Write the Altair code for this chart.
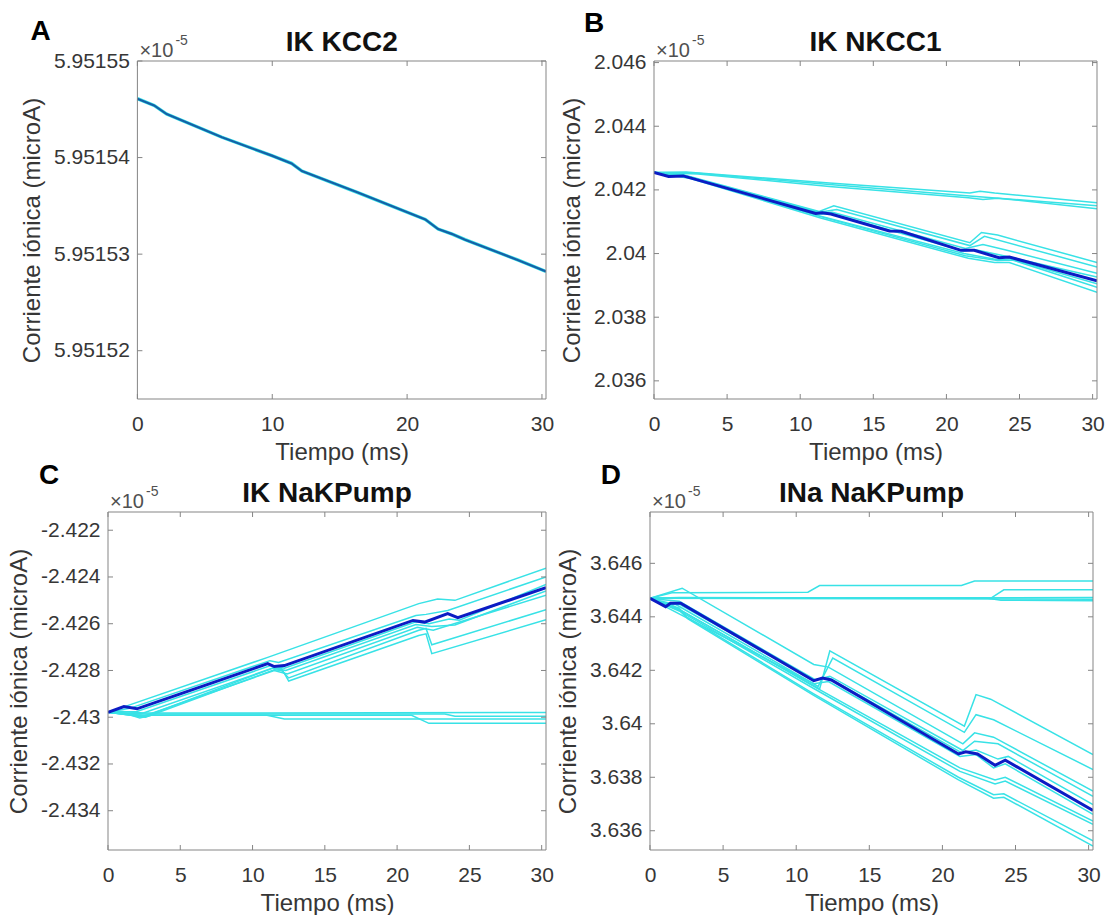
import altair as alt
import pandas as pd

FONT = "Liberation Sans"
CYAN = "#38e2e6"
DARK = "#0c1cc4"
BOX = "#858585"
LABEL = "#363636"
TITLE_C = "#111111"
T_END = 30.3

# ---------------- data (units of 1e-5 microA) ----------------
A_CURVE = [(0, 5.9515461), (1.24, 5.9515454), (2.17, 5.9515445), (6.27, 5.9515421),
           (9.97, 5.9515402), (11.43, 5.9515394), (12.2, 5.9515386), (16.3, 5.9515364),
           (21.35, 5.9515336), (22.3, 5.9515326), (23.3, 5.9515321), (24.3, 5.9515315),
           (28.2, 5.9515294), (30.3, 5.9515282)]

B_MEAN = [(0, 2.04255), (1.0, 2.04242), (2.0, 2.04244), (11.06, 2.04126), (11.5, 2.04128),
          (12.1, 2.04124), (16.1, 2.04071), (16.9, 2.04070), (21.0, 2.04010), (21.9, 2.04010),
          (23.6, 2.03987), (24.3, 2.03989), (30.3, 2.03914)]
B_RUNS = [
    [(0, 2.04255), (2.2, 2.04256), (12, 2.04222), (21.6, 2.04190), (22.3, 2.04196), (23.3, 2.04190), (30.3, 2.04160)],
    [(0, 2.04255), (2.6, 2.04254), (12, 2.04217), (21.8, 2.04180), (30.3, 2.04150)],
    [(0, 2.04255), (3.0, 2.04250), (12, 2.04211), (21.5, 2.04175), (22.5, 2.04170), (23.5, 2.04174), (30.3, 2.04141)],
    [(0, 2.04255), (2, 2.04248), (11.3, 2.04132), (12.3, 2.04150), (21.6, 2.04034), (22.4, 2.04066), (23.5, 2.04058), (30.3, 2.03972)],
    [(0, 2.04255), (2, 2.04246), (11.3, 2.04130), (12.5, 2.04138), (21.6, 2.04025), (22.6, 2.04054), (30.3, 2.03958)],
    [(0, 2.04255), (2, 2.04246), (11.2, 2.04128), (12.2, 2.04130), (21.3, 2.04016), (22.5, 2.04028), (24, 2.04012), (30.3, 2.03938)],
    [(0, 2.04255), (2.2, 2.04244), (11.2, 2.04124), (12.2, 2.04124), (21.2, 2.04008), (22, 2.04012), (24, 2.03992), (30.3, 2.03926)],
    [(0, 2.04255), (2.5, 2.04236), (11.4, 2.04112), (21.5, 2.03985), (23.3, 2.03972), (24.3, 2.03972), (30.3, 2.03878)],
    [(0, 2.04255), (2.5, 2.04240), (11.4, 2.04116), (21.3, 2.03993), (23.5, 2.03978), (24.5, 2.03980), (30.3, 2.03894)],
    [(0, 2.04255), (2.2, 2.04242), (11.2, 2.04120), (21.2, 2.04000), (23.6, 2.03980), (24.3, 2.03984), (30.3, 2.03905)],
]

C_MEAN = [(0, -2.42979), (1.1, -2.42954), (2.0, -2.42964), (5, -2.42900), (11.05, -2.42771),
          (11.5, -2.42783), (12.2, -2.42779), (21.1, -2.42586), (21.9, -2.42593), (23.5, -2.42557),
          (24.2, -2.42574), (30.3, -2.42446)]
C_RUNS = [
    [(0, -2.42979), (1.0, -2.42958), (11, -2.42745), (21.5, -2.42514), (22.8, -2.42494), (24, -2.42500), (30.3, -2.42362)],
    [(0, -2.42979), (1.5, -2.42962), (11.2, -2.42758), (11.8, -2.42766), (21.3, -2.42565), (22, -2.42560), (23.5, -2.42543), (30.3, -2.42400)],
    [(0, -2.42979), (2.0, -2.42975), (11.3, -2.42778), (12.2, -2.42790), (21.3, -2.42592), (22.2, -2.42600), (23.6, -2.42580), (24.3, -2.42585), (30.3, -2.42432)],
    [(0, -2.42979), (2.3, -2.42985), (11.4, -2.42790), (12.3, -2.42800), (21.3, -2.42603), (22.4, -2.42612), (24, -2.42605), (30.3, -2.42460)],
    [(0, -2.42979), (2.5, -2.42995), (11.5, -2.42800), (12.4, -2.42815), (21.4, -2.42615), (22.5, -2.42628), (30.3, -2.42478)],
    [(0, -2.42979), (2.5, -2.42998), (11.4, -2.42790), (12.0, -2.42790), (12.5, -2.42845), (21.5, -2.42650), (22.0, -2.42643), (22.4, -2.42728), (30.3, -2.42583)],
    [(0, -2.42979), (2.6, -2.43000), (11.5, -2.42797), (12.0, -2.42800), (12.5, -2.42832), (21.5, -2.42628), (22.0, -2.42620), (22.4, -2.42690), (30.3, -2.42540)],
    [(0, -2.42979), (1.0, -2.42975), (2.5, -2.42982), (30.3, -2.42980)],
    [(0, -2.42979), (2.0, -2.42986), (23.3, -2.42986), (24.0, -2.42996), (30.3, -2.42996)],
    [(0, -2.42979), (2.3, -2.42992), (11, -2.42992), (12.2, -2.43008), (30.3, -2.43008)],
    [(0, -2.42979), (1.5, -2.42990), (2.2, -2.43003), (3, -2.42992), (21, -2.42992), (22.2, -2.43026), (30.3, -2.43026)],
]

D_MEAN = [(0, 3.64469), (1.07, 3.64438), (1.4, 3.64451), (2.1, 3.64451), (11.2, 3.64161),
          (11.8, 3.64171), (12.4, 3.64164), (21.1, 3.63887), (21.6, 3.63895), (22.4, 3.63887),
          (23.6, 3.63845), (24.3, 3.63864), (30.3, 3.63676)]
D_RUNS = [
    [(0, 3.64469), (1.6, 3.64440), (11.6, 3.64130), (12.3, 3.64273), (21.5, 3.63991), (22.3, 3.64109), (23.3, 3.64092), (30.3, 3.63885)],
    [(0, 3.64469), (1.8, 3.64445), (11.5, 3.64140), (12.5, 3.64246), (21.5, 3.63968), (22.3, 3.64034), (23.5, 3.64015), (30.3, 3.63829)],
    [(0, 3.64469), (2.2, 3.64507), (11.2, 3.64222), (12.2, 3.64212), (21.4, 3.63925), (22.2, 3.63966), (23.5, 3.63950), (30.3, 3.63748)],
    [(0, 3.64469), (2.0, 3.64458), (11.3, 3.64165), (12.3, 3.64178), (21.4, 3.63900), (22.2, 3.63935), (23.8, 3.63925), (30.3, 3.63729)],
    [(0, 3.64469), (1.3, 3.64445), (2.0, 3.64448), (11.2, 3.64163), (12.2, 3.64172), (21.3, 3.63892), (22.3, 3.63902), (23.8, 3.63868), (24.5, 3.63878), (30.3, 3.63698)],
    [(0, 3.64469), (1.5, 3.64425), (11.2, 3.64150), (12.2, 3.64158), (21.2, 3.63878), (22.3, 3.63885), (23.5, 3.63835), (24.3, 3.63850), (30.3, 3.63661)],
    [(0, 3.64469), (2.0, 3.64428), (11.2, 3.64140), (21.2, 3.63835), (23.6, 3.63790), (24.3, 3.63800), (30.3, 3.63636)],
    [(0, 3.64469), (2.0, 3.64422), (11.2, 3.64132), (21.2, 3.63822), (23.6, 3.63775), (24.3, 3.63786), (30.3, 3.63624)],
    [(0, 3.64469), (2.0, 3.64432), (2.5, 3.64400), (11.2, 3.64112), (21.1, 3.63800), (23.5, 3.63735), (24.2, 3.63738), (30.3, 3.63562)],
    [(0, 3.64469), (2.0, 3.64425), (2.6, 3.64392), (11.2, 3.64106), (21.1, 3.63790), (23.5, 3.63722), (24.2, 3.63725), (30.3, 3.63543)],
    [(0, 3.64469), (1.5, 3.64490), (10.8, 3.64492), (11.6, 3.64517), (21.3, 3.64517), (22.2, 3.64534), (30.3, 3.64534)],
    [(0, 3.64469), (23.3, 3.64469), (24.2, 3.64501), (30.3, 3.64501)],
    [(0, 3.64469), (30.3, 3.64472)],
    [(0, 3.64469), (30.3, 3.64466)],
    [(0, 3.64469), (2.0, 3.64472), (23.0, 3.64470), (24.0, 3.64462), (30.3, 3.64460)],
]

A_YTICKS = [5.95152, 5.95153, 5.95154, 5.95155]
B_YTICKS = [2.036, 2.038, 2.040, 2.042, 2.044, 2.046]
C_YTICKS = [-2.434, -2.432, -2.430, -2.428, -2.426, -2.424, -2.422]
D_YTICKS = [3.636, 3.638, 3.640, 3.642, 3.644, 3.646]
A_XTICKS = [0, 10, 20, 30]
BCD_XTICKS = [0, 5, 10, 15, 20, 25, 30]

A_YDOM = [5.951515, 5.95155]
B_YDOM = [2.03543, 2.04605]
C_YDOM = [-2.43568, -2.42122]
D_YDOM = [3.63528, 3.64792]

ONE = pd.DataFrame({"k": [0]})
TICK = 5


def long_df(runs):
    rows = []
    for i, run in enumerate(runs):
        for t, v in run:
            rows.append({"t": t, "v": v, "run": i})
    return pd.DataFrame(rows)


def text(s, x, y, size, weight="normal", color=LABEL, align="left", baseline="alphabetic"):
    return alt.Chart(ONE).mark_text(
        text=s, font=FONT, fontSize=size, fontWeight=weight, color=color,
        align=align, baseline=baseline
    ).encode(x=alt.value(x), y=alt.value(y))


def rule(x, y, x2=None, y2=None):
    enc = {"x": alt.value(x), "y": alt.value(y)}
    if x2 is not None:
        enc["x2"] = alt.value(x2)
    if y2 is not None:
        enc["y2"] = alt.value(y2)
    return alt.Chart(ONE).mark_rule(color=BOX, strokeWidth=1).encode(**enc)


def panel(runs, mean, ydom, yticks, xticks, title, letter, letter_xy, width, height,
          dummies, x0=0, run_w=1.5, mean_w=3.0, run_color=CYAN, mean_color=DARK):
    # x0: left inset of the drawn box inside the view (used to offset panel A)
    xs = alt.Scale(domain=[0, T_END], range=[x0, width], nice=False, zero=False)
    ys = alt.Scale(domain=ydom, nice=False, zero=False)
    xaxis = alt.Axis(values=xticks, title="Tiempo (ms)", ticks=False, domain=False, grid=False,
                     labelFlush=False, labelOverlap=False, labelPadding=14, titlePadding=6,
                     labelFont=FONT, labelFontSize=21, labelColor=LABEL,
                     titleFont=FONT, titleFontSize=24, titleFontWeight="normal", titleColor=LABEL)
    yaxis = alt.Axis(values=yticks, title="Corriente iónica (microA)", ticks=False, domain=False,
                     grid=False, labelOverlap=False, labelPadding=8, titlePadding=9,
                     offset=-x0,
                     labelExpr="replace(format(datum.value, '~g'), '\u2212', '-')",
                     labelFont=FONT, labelFontSize=21, labelColor=LABEL,
                     titleFont=FONT, titleFontSize=24, titleFontWeight="normal", titleColor=LABEL)
    X = alt.X("t:Q", scale=xs, axis=xaxis)
    Y = alt.Y("v:Q", scale=ys, axis=yaxis)
    runs_layer = alt.Chart(long_df(runs)).mark_line(
        color=run_color, strokeWidth=run_w, clip=True
    ).encode(x=X, y=Y, detail="run:N")
    mean_layer = alt.Chart(long_df([mean])).mark_line(
        color=mean_color, strokeWidth=mean_w, clip=True
    ).encode(x=X, y=Y)
    yt = pd.DataFrame({"v": yticks})
    xt = pd.DataFrame({"t": xticks})
    tick_l = alt.Chart(yt).mark_rule(color=BOX, strokeWidth=1).encode(
        y=Y, x=alt.value(x0), x2=alt.value(x0 + TICK))
    tick_r = alt.Chart(yt).mark_rule(color=BOX, strokeWidth=1).encode(
        y=Y, x=alt.value(width - TICK), x2=alt.value(width))
    tick_b = alt.Chart(xt).mark_rule(color=BOX, strokeWidth=1).encode(
        x=X, y=alt.value(height - TICK), y2=alt.value(height))
    tick_t = alt.Chart(xt).mark_rule(color=BOX, strokeWidth=1).encode(
        x=X, y=alt.value(0), y2=alt.value(TICK))
    box = [rule(x0, 0, y2=height), rule(width, 0, y2=height),
           rule(x0, 0, x2=width), rule(x0, height, x2=width)]
    layers = [runs_layer, mean_layer, tick_l, tick_r, tick_b, tick_t] + box + [
        text(title, (x0 + width) / 2, -10, 28, "bold", TITLE_C, align="center"),
        text(letter, x0 + letter_xy[0], letter_xy[1], 28, "bold", "#000000"),
        text("\u00d710", x0 + 2, -4, 20, color="#505050"),
        text("-5", x0 + 38, -16, 14, color="#505050")]
    for dx, dy in dummies:
        layers.append(text(".", dx, dy, 2, color="#ffffff", baseline="top"))
    return alt.layer(*layers).properties(
        width=width, height=height, view=alt.ViewBackground(strokeOpacity=0)
    )


A = panel([A_CURVE], A_CURVE, A_YDOM, A_YTICKS, A_XTICKS, "IK KCC2", "A", (-107, -21),
          438, 338, dummies=[(0, -58), (0, 409)], x0=29.4, run_w=3.4, mean_w=2.2,
          mean_color="#1560a8")
B = panel(B_RUNS, B_MEAN, B_YDOM, B_YTICKS, BCD_XTICKS, "IK NKCC1", "B", (-70, -29.3),
          443, 338, dummies=[])
C = panel(C_RUNS, C_MEAN, C_YDOM, C_YTICKS, BCD_XTICKS, "IK NaKPump", "C", (-69, -28.4),
          438, 338, dummies=[(-103.3, -56.7)])
D = panel(D_RUNS, D_MEAN, D_YDOM, D_YTICKS, BCD_XTICKS, "INa NaKPump", "D", (-49.3, -28.4),
          443, 338, dummies=[])

row1 = alt.hconcat(A, B, spacing=108, bounds="flush")
row2 = alt.hconcat(C, D, spacing=104, bounds="flush")

chart = alt.concat(row1, row2, columns=1, align="none", spacing=-17).properties(
    padding={"left": 4, "top": 3, "right": 0, "bottom": 0}
).configure(font=FONT, background="white")

chart.save("out.html", embed_options={"renderer": "svg", "actions": False})
